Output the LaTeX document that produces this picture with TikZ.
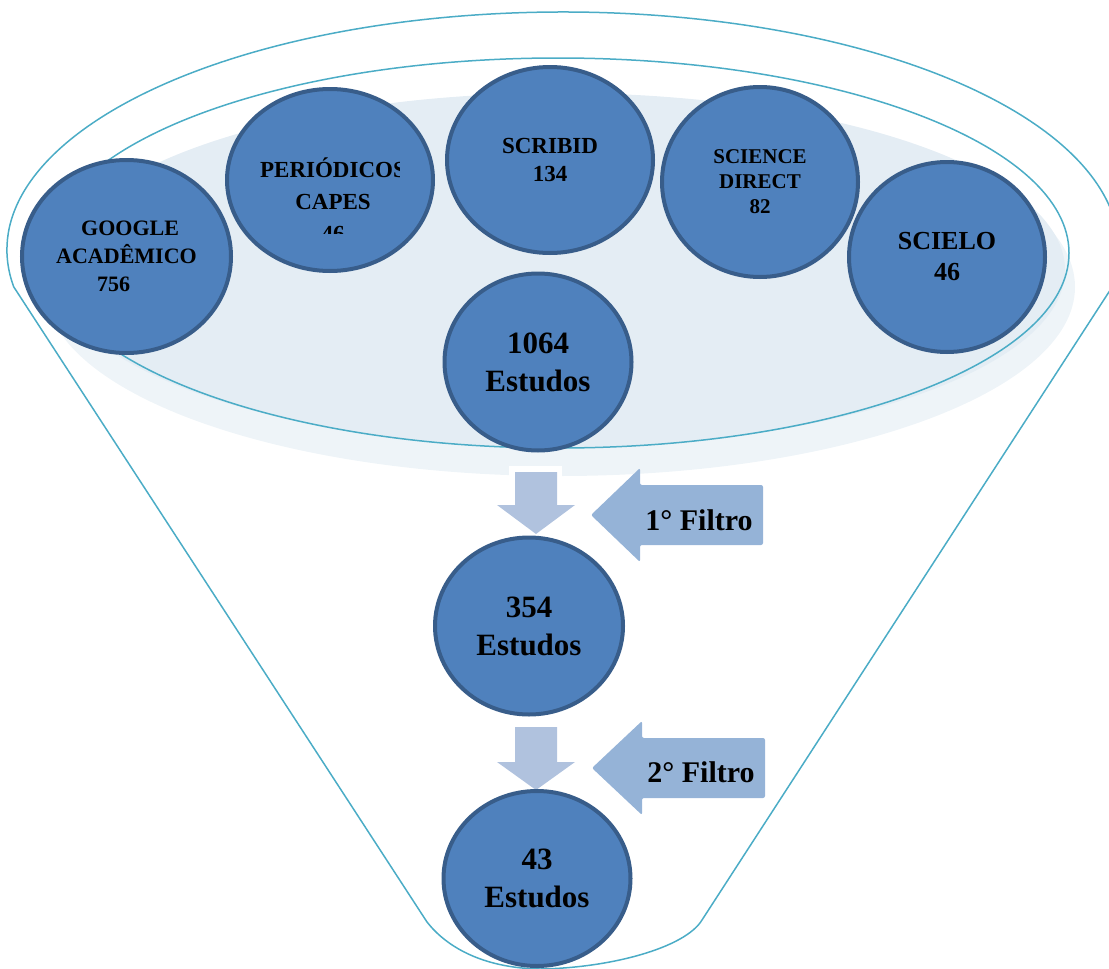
\documentclass[tikz,border=0pt]{standalone}
\usepackage{fontspec}
\setmainfont{Liberation Serif}
\usetikzlibrary{shapes.geometric}
\definecolor{funilazul}{HTML}{4BACC6}
\definecolor{bolaazul}{HTML}{4F81BD}
\definecolor{bolaborda}{HTML}{385D8A}
\definecolor{sombraclara}{HTML}{EEF4F8}
\definecolor{sombraescura}{HTML}{E4EDF4}
\definecolor{setabaixo}{HTML}{B0C2DE}
\definecolor{setalado}{HTML}{95B3D7}

\begin{document}
\begin{tikzpicture}[x=1pt,y=-1pt,
  funil/.style={draw=funilazul, line width=1.5pt},
  bola/.style={ellipse, draw=bolaborda, fill=bolaazul, line width=4pt, inner sep=0pt, align=center},
  estudos/.style={bola, font=\bfseries\fontsize{31}{38}\selectfont}]
       \useasboundingbox (0,0) rectangle (1109,969);
       % funil
       \draw[funil] (13.7,286.8) arc[start angle=171.1, end angle=368.9, x radius=556, y radius=238]
              -- (702,920) .. controls (685,948) and (610,968) .. (540,969)
              .. controls (480,968) and (445,945) .. (427,922) -- cycle;
       \fill[sombraclara] (560,287) ellipse [x radius=515, y radius=189];
       \fill[sombraescura] (560,270) ellipse [x radius=505, y radius=177];
       \draw[funil] (558,253) ellipse [x radius=511, y radius=195];

       % bases
       \node[bola, minimum width=209, minimum height=193, align=left, font=\bfseries\fontsize{22}{28}\selectfont]
              (google) at (126.5,256.5) {\hspace*{25pt}GOOGLE\\ACAD\^EMICO\\\hspace*{41pt}756};
       \node[bola, minimum width=206, minimum height=182] (capes) at (330,180) {};
       \begin{scope}
              \clip (220,140) rectangle (399,233);
              \node[align=center, font=\bfseries\fontsize{23}{32}\selectfont] (capestxt) at (333,200) {PERIÓDICOS\\CAPES\\46};
       \end{scope}
       \node[bola, minimum width=206, minimum height=186, font=\bfseries\fontsize{23}{28}\selectfont]
              (scribid) at (550,160) {SCRIBID\\134};
       \node[bola, minimum width=196, minimum height=190, font=\bfseries\fontsize{21}{25}\selectfont]
              (science) at (760,182) {SCIENCE\\DIRECT\\82};
       \node[bola, minimum width=196, minimum height=190, font=\bfseries\fontsize{26}{31}\selectfont]
              (scielo) at (947,257) {SCIELO\\46};
       \node[estudos, minimum width=187, minimum height=177] (est1064) at (538,362) {1064\\Estudos};

       % filtros
       \fill[white] (509,466) rectangle (562,477);
       \fill[setabaixo] (515,472) -- (557,472) -- (557,505) -- (575,505) -- (536,534) -- (497,505) -- (515,505) -- cycle;
       \fill[setalado, rounded corners=2pt] (591,515) -- (640,468) -- (640,485) -- (763,485) -- (763,545) -- (640,545) -- (640,562) -- cycle;
       \node[anchor=base, font=\bfseries\fontsize{30}{36}\selectfont] (filtro1) at (699,530) {1° Filtro};
       \node[estudos, minimum width=188, minimum height=177] (est354) at (529,626) {354\\Estudos};

       \fill[setabaixo] (515,727) -- (557,727) -- (557,762) -- (575,762) -- (536,790) -- (497,762) -- (515,762) -- cycle;
       \fill[setalado, rounded corners=2pt] (592,768) -- (642,721) -- (642,738) -- (765,738) -- (765,798) -- (642,798) -- (642,815) -- cycle;
       \node[anchor=base, font=\bfseries\fontsize{30}{36}\selectfont] (filtro2) at (701,782) {2° Filtro};
       \node[estudos, minimum width=187, minimum height=175] (est43) at (537,878.5) {43\\Estudos};
\end{tikzpicture}
\end{document}
